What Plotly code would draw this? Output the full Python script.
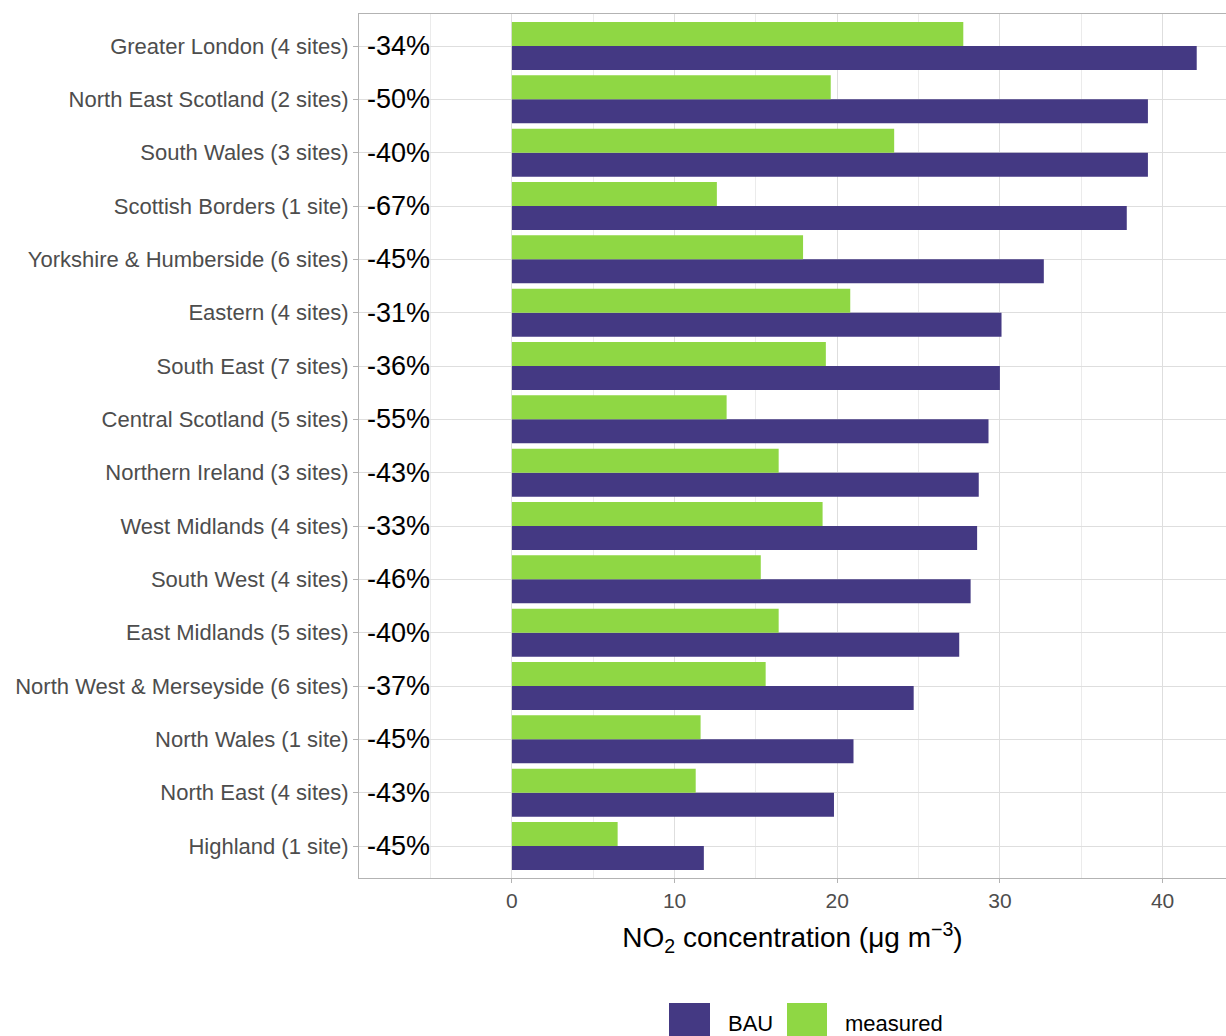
import plotly.graph_objects as go

# Data (top of chart to bottom)
regions = [
    "Greater London (4 sites)",
    "North East Scotland (2 sites)",
    "South Wales (3 sites)",
    "Scottish Borders (1 site)",
    "Yorkshire & Humberside (6 sites)",
    "Eastern (4 sites)",
    "South East (7 sites)",
    "Central Scotland (5 sites)",
    "Northern Ireland (3 sites)",
    "West Midlands (4 sites)",
    "South West (4 sites)",
    "East Midlands (5 sites)",
    "North West & Merseyside (6 sites)",
    "North Wales (1 site)",
    "North East (4 sites)",
    "Highland (1 site)",
]
bau = [42.1, 39.1, 39.1, 37.8, 32.7, 30.1, 30.0, 29.3, 28.7, 28.6, 28.2, 27.5, 24.7, 21.0, 19.8, 11.8]
measured = [27.75, 19.6, 23.5, 12.6, 17.9, 20.8, 19.3, 13.2, 16.4, 19.1, 15.3, 16.4, 15.6, 11.6, 11.3, 6.5]
pct_labels = ["-34%", "-50%", "-40%", "-67%", "-45%", "-31%", "-36%", "-55%",
              "-43%", "-33%", "-46%", "-40%", "-37%", "-45%", "-43%", "-45%"]
series_names = ["BAU", "measured"]
colors = {"BAU": "#443983", "measured": "#8FD744"}
label_x = -7.0

FONT = "Liberation Sans, Arial, sans-serif"

# plot bottom-to-top so first category appears at top
cats = regions[::-1]
bau_r = bau[::-1]
meas_r = measured[::-1]

fig = go.Figure()
fig.add_trace(go.Bar(y=cats, x=bau_r, orientation="h", name="BAU",
                     marker=dict(color=colors["BAU"], line=dict(width=0)),
                     showlegend=False))
fig.add_trace(go.Bar(y=cats, x=meas_r, orientation="h", name="measured",
                     marker=dict(color=colors["measured"], line=dict(width=0)),
                     showlegend=False))

for reg, lab in zip(regions, pct_labels):
    fig.add_annotation(x=label_x, y=reg, xref="x", yref="y", text=lab,
                       showarrow=False, xanchor="center", yanchor="middle",
                       font=dict(family=FONT, size=27, color="black"))

W, H = 1226, 1036
# plot-area pixel bounds
PL, PR, PT, PB = 359, 1226, 14, 878
L, T, R, B = PL, PT, W - PR, H - PB
pw, ph = PR - PL, PB - PT

def px(x):
    return (x - PL) / pw

def py(y):
    return (PB - y) / ph

legend_items = [("BAU", 669, 710, 726), ("measured", 787, 827, 843)]
for name, x0, x1, tx in legend_items:
    fig.add_shape(type="rect", xref="paper", yref="paper",
                  x0=px(x0), x1=px(x1), y0=py(1003), y1=py(1050),
                  fillcolor=colors[name], line=dict(width=0), layer="above")
    fig.add_annotation(x=px(tx), y=py(1024), xref="paper", yref="paper",
                       text=name, showarrow=False, xanchor="left", yanchor="middle",
                       font=dict(family=FONT, size=22, color="black"))

fig.update_layout(
    width=W, height=H,
    margin=dict(l=L, r=R, t=T, b=B, pad=0),
    barmode="group", bargap=0.1, bargroupgap=0,
    plot_bgcolor="white", paper_bgcolor="white",
    font=dict(family=FONT),
)
fig.update_xaxes(
    range=[-9.4, 43.9],
    tickmode="linear", tick0=0, dtick=10,
    showgrid=True, gridcolor="#DEDEDE", gridwidth=1,
    minor=dict(tick0=0, dtick=5, showgrid=True, gridcolor="#EBEBEB", gridwidth=1, ticklen=0),
    zeroline=False,
    showline=True, linecolor="#B3B3B3", linewidth=1, mirror=True,
    ticks="outside", ticklen=4, tickcolor="#B3B3B3",
    tickfont=dict(family=FONT, size=21, color="#4D4D4D"),
    title=dict(text="NO<sub>2</sub> concentration (μg m<sup>−3</sup>)",
               font=dict(family=FONT, size=28, color="black"), standoff=16),
)
fig.update_yaxes(
    type="category", categoryorder="array", categoryarray=cats,
    range=[-0.6, 15.6],
    showgrid=True, gridcolor="#DEDEDE", gridwidth=1,
    zeroline=False,
    showline=True, linecolor="#B3B3B3", linewidth=1, mirror=False,
    ticks="outside", ticklen=5, tickcolor="#B3B3B3",
    tickfont=dict(family=FONT, size=22, color="#4D4D4D"),
)

fig.write_html("out.html",
               config={"displayModeBar": False},
               post_script="document.body.style.margin='0';document.body.style.overflow='hidden';")
